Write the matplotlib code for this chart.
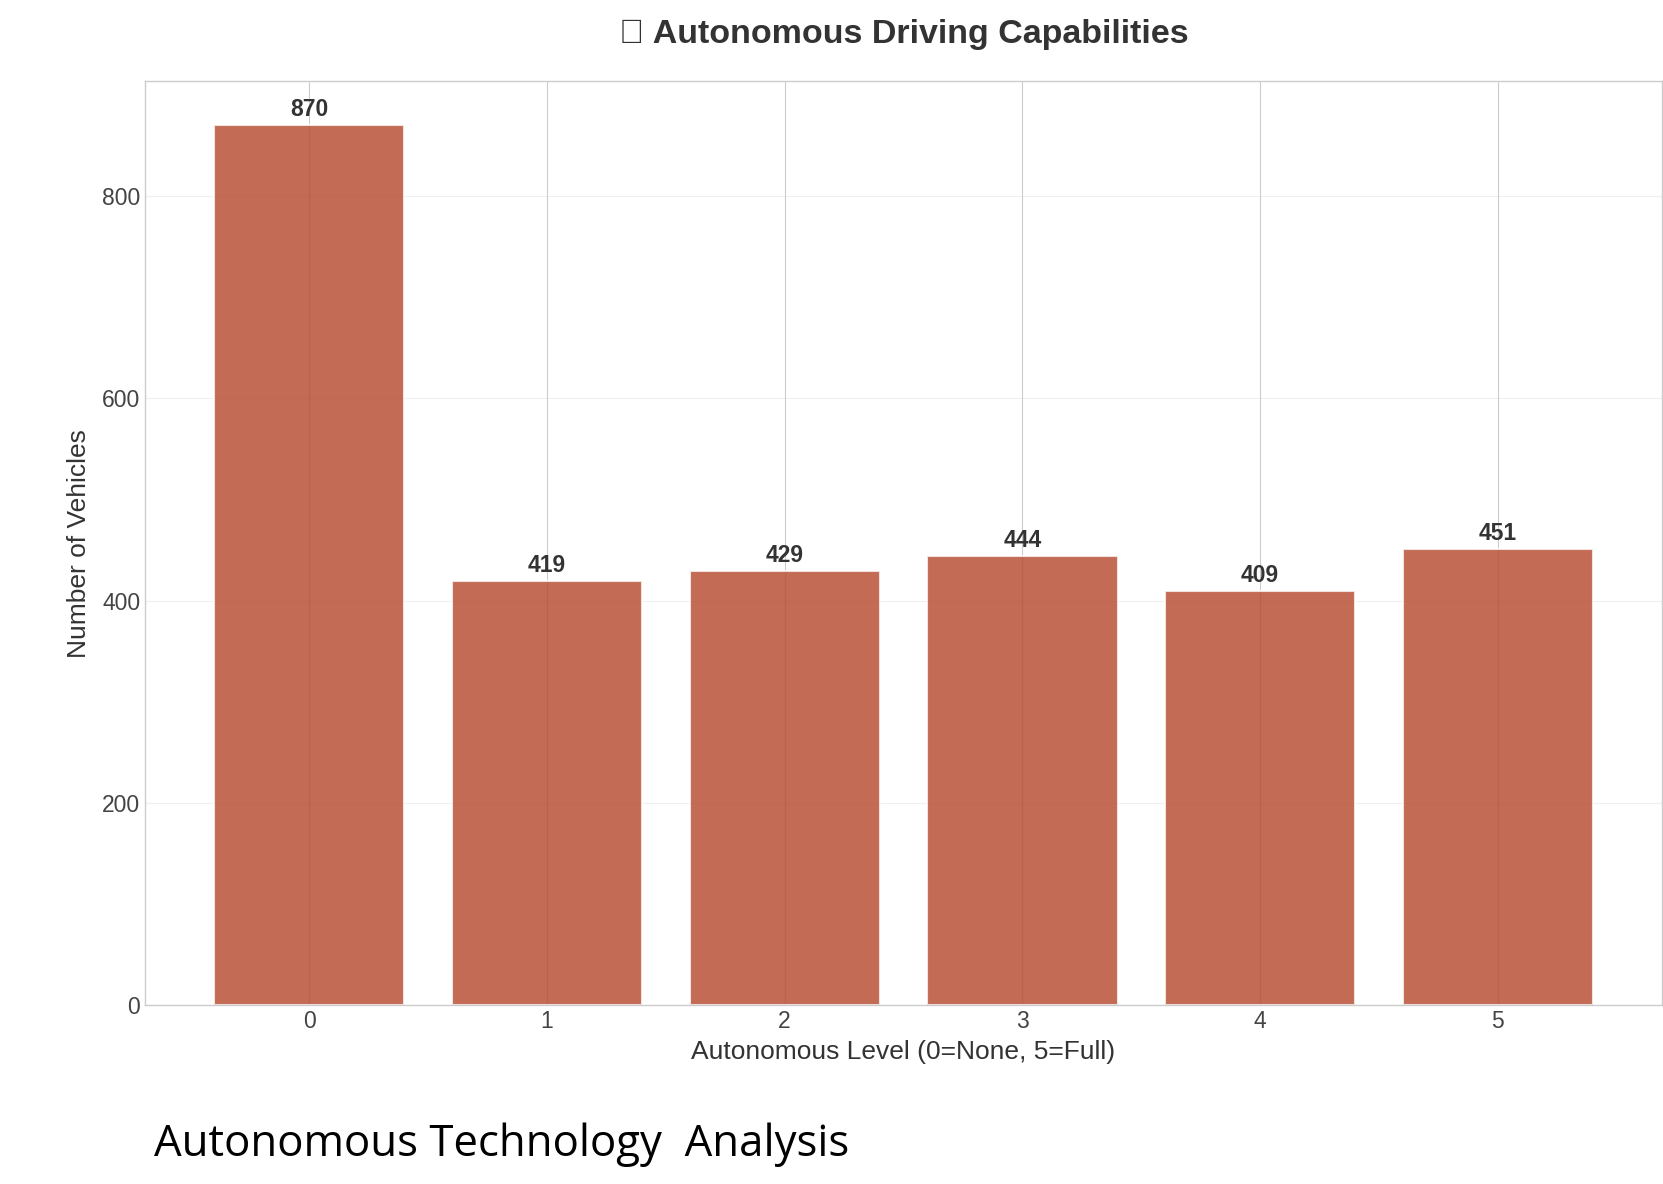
import matplotlib.pyplot as plt
import numpy as np

plt.style.use('seaborn-v0_8-whitegrid')
plt.rcParams['font.family'] = ['Liberation Sans', 'DejaVu Sans']

levels = [0, 1, 2, 3, 4, 5]
counts = [870, 419, 429, 444, 409, 451]

fig = plt.figure(figsize=(16.63, 11.84), dpi=100)
ax = fig.add_axes([0.0872, 0.151, 0.9122, 0.7806])

bars = ax.bar(levels, counts, width=0.8, color='#b5462a', alpha=0.8,
              edgecolor='white', linewidth=1.5)

# Werte über den Balken
for b, v in zip(bars, counts):
    ax.text(b.get_x() + b.get_width() / 2, v + 4, str(v), ha='center', va='bottom',
            fontsize=16.5, fontweight='bold', color='#333333')

ax.grid(axis='y', alpha=0.3)
ax.set_xticks(levels)
ax.tick_params(labelsize=16.5, colors='#444444')
ax.set_xlabel("Autonomous Level (0=None, 5=Full)", fontsize=19, color='#333333', labelpad=5)
ax.set_ylabel("Number of Vehicles", fontsize=19, color='#333333', labelpad=8)
ax.set_title("\U0001F6E3\uFE0F Autonomous Driving Capabilities", fontsize=24.5,
             fontweight='bold', color='#333333', pad=27)
for s in ax.spines.values():
    s.set_color('#cccccc')

fig.text(0.0926, 0.024, "Autonomous Technology  Analysis", fontsize=31.5,
         family='Open Sans', color='black', va='baseline')

fig.savefig('out.png', dpi=100)
